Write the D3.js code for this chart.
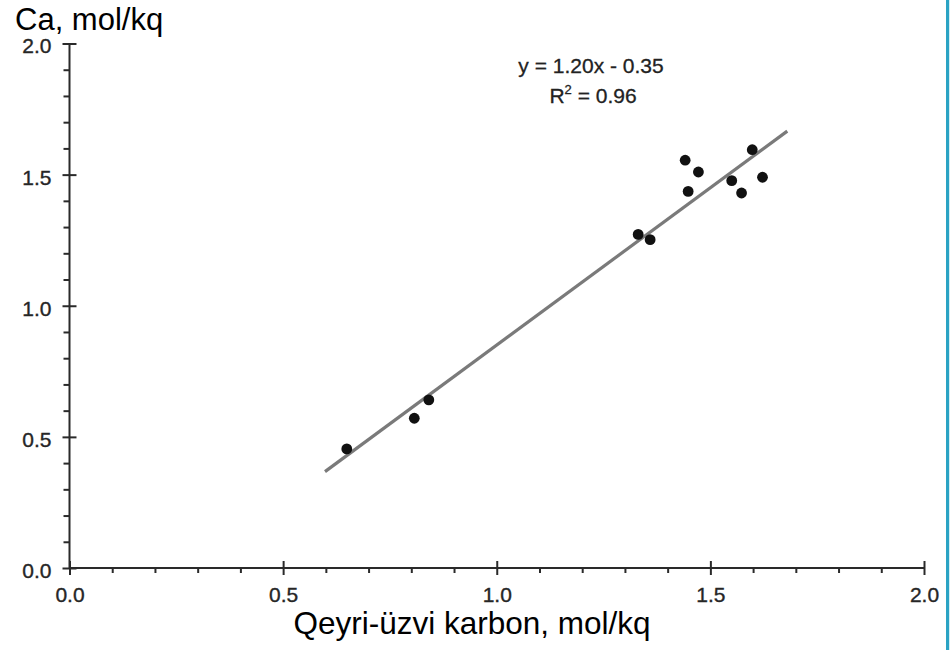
<!DOCTYPE html>
<html>
<head>
<meta charset="utf-8">
<script src="https://cdn.jsdelivr.net/npm/d3@7"></script>
<style>
  html, body { margin: 0; padding: 0; background: #fff; }
  svg { display: block; }
</style>
</head>
<body>
<svg id="chart" width="952" height="650"></svg>
<script>
// Data
const xValues = [0.649, 0.807, 0.841, 1.331, 1.359, 1.441, 1.448, 1.472, 1.550, 1.573, 1.598, 1.622];
const yValues = [0.454, 0.571, 0.641, 1.272, 1.252, 1.555, 1.436, 1.510, 1.477, 1.430, 1.595, 1.490];
const fitSlope = 1.20;
const fitIntercept = -0.35;
const fitRange = [0.598, 1.68];
const majorTicks = [0, 0.5, 1.0, 1.5, 2.0];
const minorTicks = [0.1, 0.2, 0.3, 0.4, 0.6, 0.7, 0.8, 0.9, 1.1, 1.2, 1.3, 1.4, 1.6, 1.7, 1.8, 1.9];
const xTitle = "Qeyri-üzvi karbon, mol/kq";
const yTitle = "Ca, mol/kq";
const eqLine1 = "y = 1.20x - 0.35";

const svg = d3.select("#chart");
const font = "'Liberation Sans', Arial, Helvetica, sans-serif";

const x = d3.scaleLinear().domain([0, 2]).range([69.5, 924]);
const y = d3.scaleLinear().domain([0, 2]).range([568, 43.5]);

const axisColor = "#2a2a2a";

// X axis major
const gx = svg.append("g").attr("transform", `translate(0,${y(0)})`)
  .call(d3.axisBottom(x).tickValues(majorTicks).tickFormat(d3.format(".1f")).tickSize(7).tickPadding(12));
gx.selectAll(".tick line").attr("y1", -7);
// X axis minor
const gxm = svg.append("g").attr("transform", `translate(0,${y(0)})`)
  .call(d3.axisBottom(x).tickValues(minorTicks).tickFormat("").tickSize(5));
gxm.select(".domain").remove();

// Y axis major
const gy = svg.append("g").attr("transform", `translate(${x(0)},0)`)
  .call(d3.axisLeft(y).tickValues(majorTicks).tickFormat(d3.format(".1f")).tickSize(7).tickPadding(11));
gy.selectAll(".tick line").attr("x1", 7);
const gym = svg.append("g").attr("transform", `translate(${x(0)},0)`)
  .call(d3.axisLeft(y).tickValues(minorTicks).tickFormat("").tickSize(6));
gym.select(".domain").remove();

[gx, gxm, gy, gym].forEach(g => {
  g.selectAll(".domain").attr("stroke", axisColor).attr("stroke-width", 2);
  g.selectAll(".tick line").attr("stroke", axisColor).attr("stroke-width", 2);
  g.selectAll(".tick text").attr("fill", "#262626")
    .attr("stroke", "#262626").attr("stroke-width", 0.35)
    .style("font-family", font).style("font-size", "21px");
});
gx.select(".domain").attr("d", `M${x(0)},0H${x(2)}`);
gy.select(".domain").attr("d", `M0,${y(0)}V${y(2)}`);
gy.selectAll(".tick text").attr("dy", "0.45em");

// Regression line
svg.append("line")
  .attr("x1", x(fitRange[0])).attr("y1", y(fitSlope * fitRange[0] + fitIntercept))
  .attr("x2", x(fitRange[1])).attr("y2", y(fitSlope * fitRange[1] + fitIntercept))
  .attr("stroke", "#7a7a7a").attr("stroke-width", 3.2);

// Points
svg.append("g").selectAll("circle")
  .data(xValues.map((v, i) => [v, yValues[i]]))
  .join("circle")
  .attr("cx", d => x(d[0])).attr("cy", d => y(d[1]))
  .attr("r", 5.4).attr("fill", "#111");

// Equation text
svg.append("text").attr("x", 591).attr("y", 73)
  .attr("text-anchor", "middle").attr("fill", "#222")
  .attr("stroke", "#222").attr("stroke-width", 0.3)
  .style("font-family", font).style("font-size", "21px")
  .text(eqLine1);
const r2 = svg.append("text").attr("x", 593).attr("y", 103)
  .attr("text-anchor", "middle").attr("fill", "#222")
  .attr("stroke", "#222").attr("stroke-width", 0.3)
  .style("font-family", font).style("font-size", "21px");
r2.append("tspan").text("R");
r2.append("tspan").attr("dy", -9).style("font-size", "13px").text("2");
r2.append("tspan").attr("dy", 9).text(" = 0.96");

// Titles
svg.append("text").attr("x", 15).attr("y", 30)
  .attr("fill", "#000").style("font-family", font).style("font-size", "31px")
  .text(yTitle);
svg.append("text").attr("x", 472).attr("y", 634)
  .attr("text-anchor", "middle").attr("fill", "#000")
  .style("font-family", font).style("font-size", "31.5px")
  .text(xTitle);

// Right border strip
svg.append("rect").attr("x", 946).attr("y", 0).attr("width", 3.2).attr("height", 650)
  .attr("fill", "#2aa3c4");
</script>
</body>
</html>
